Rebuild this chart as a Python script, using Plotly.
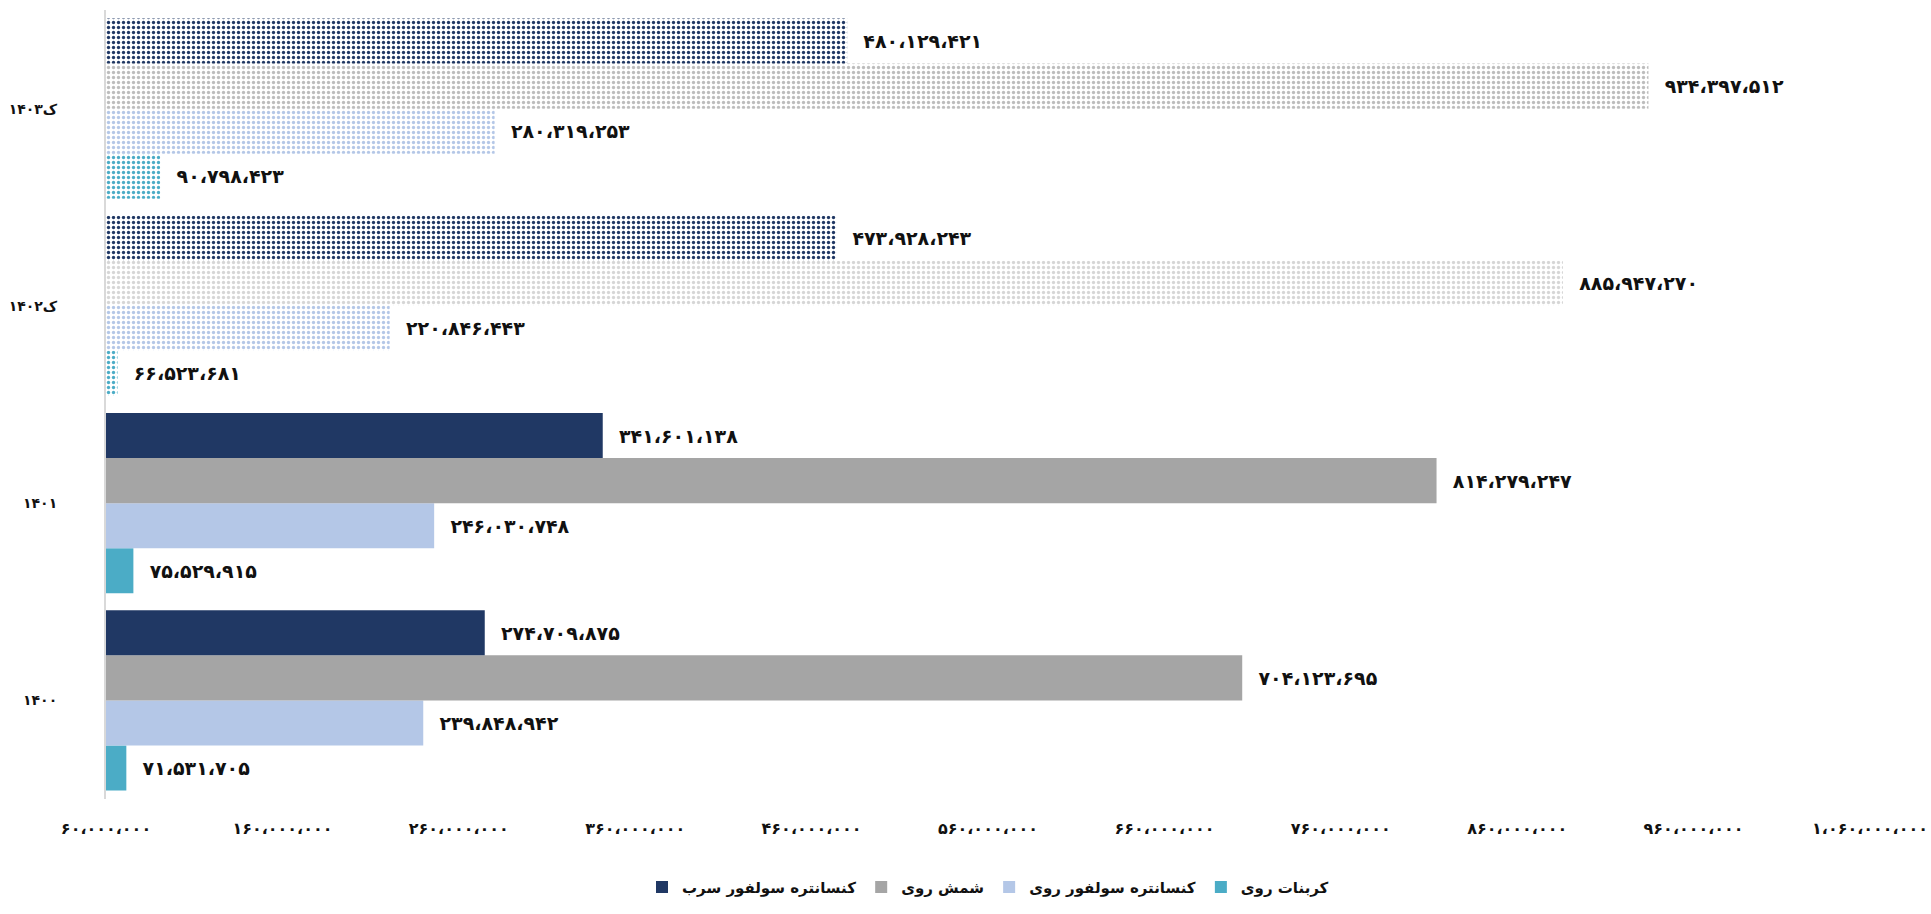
import plotly.graph_objects as go

# Years on the category axis (bottom to top)
years = ["۱۴۰۰", "۱۴۰۱", "۱۴۰۲ک", "۱۴۰۳ک"]

# Production values per product
lead_conc = [274709875, 341601138, 473928243, 480129421]      # کنسانتره سولفور سرب
zinc_ingot = [704123695, 814279247, 885947270, 934397512]     # شمش روی
zinc_conc = [239848942, 246030748, 220846443, 280319253]      # کنسانتره سولفور روی
zinc_carb = [71531705, 75529915, 66523681, 90798423]          # کربنات روی

tick_vals = [60e6, 160e6, 260e6, 360e6, 460e6, 560e6, 660e6, 760e6, 860e6, 960e6, 1060e6]

FA_DIGITS = str.maketrans("0123456789", "۰۱۲۳۴۵۶۷۸۹")


def fa_num(v, sep="،"):
    s = f"{int(round(v)):,}".replace(",", sep)
    return s.translate(FA_DIGITS)


tick_text = [fa_num(v) for v in tick_vals]

# Estimated (ک) years are drawn with a dotted fill
shapes = ["", "", ".", "."]

series = [
    ("کربنات روی", zinc_carb, ["#4BACC6"] * 4),
    ("کنسانتره سولفور روی", zinc_conc, ["#B4C7E7"] * 4),
    ("شمش روی", zinc_ingot, ["#A5A5A5", "#A5A5A5", "#D6D6D6", "#BDBDBD"]),
    ("کنسانتره سولفور سرب", lead_conc, ["#203864"] * 4),
]

FONT = "DejaVu Sans"

fig = go.Figure()
for name, vals, cols in series:
    fig.add_trace(go.Bar(
        y=years,
        x=vals,
        name=name,
        orientation="h",
        marker=dict(
            color=cols,
            line=dict(width=0),
            pattern=dict(
                shape=shapes,
                fgcolor="white",
                bgcolor=cols,
                size=5,
                solidity=0.35,
                fillmode="replace",
            ),
        ),
        text=["\u00a0\u00a0" + fa_num(v) for v in vals],
        textposition="outside",
        textfont=dict(family=FONT, size=19, color="#111111", weight="bold"),
        constraintext="none",
        cliponaxis=False,
    ))

fig.update_layout(
    width=1931,
    height=914,
    barmode="group",
    bargap=0.086,
    bargroupgap=0,
    plot_bgcolor="white",
    paper_bgcolor="white",
    margin=dict(l=106, r=61, t=10, b=107),
    font=dict(family=FONT, color="#111111"),
    legend=dict(
        orientation="h",
        traceorder="reversed",
        x=0.5, xanchor="center",
        y=-0.112, yanchor="middle",
        font=dict(family=FONT, size=15, weight="bold"),
        itemwidth=30,
    ),
    xaxis=dict(
        range=[60e6, 1060e6],
        tickvals=tick_vals,
        ticktext=tick_text,
        showgrid=False,
        zeroline=False,
        showline=False,
        ticks="",
        ticklabelstandoff=18,
        automargin=False,
        tickfont=dict(family=FONT, size=16, weight="bold"),
    ),
    yaxis=dict(
        showgrid=False,
        showline=True,
        linecolor="#D9D9D9",
        linewidth=2,
        ticks="",
        ticklabelstandoff=44,
        automargin=False,
        tickfont=dict(family=FONT, size=14, weight="bold"),
    ),
)

fig.write_html("out.html")
